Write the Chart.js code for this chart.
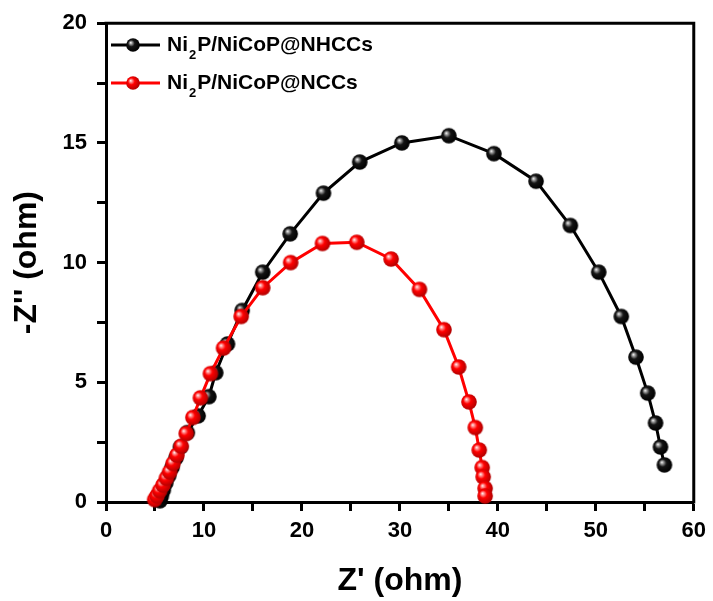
<!DOCTYPE html>
<html>
<head>
<meta charset="utf-8">
<script src="https://cdn.jsdelivr.net/npm/chart.js@4"></script>
<style>
  body { margin: 0; background: #fff; }
  #wrap { width: 713px; height: 601px; }
</style>
</head>
<body>
<div id="wrap"><canvas id="grafico" width="713" height="601"></canvas></div>
<script>
// dados (Nyquist)
var nomes = ['Ni', '2', 'P/NiCoP@NHCCs', 'P/NiCoP@NCCs'];

var zReal_NHCCs = [5.5, 5.65, 5.85, 6.1, 6.4, 6.75, 7.15, 7.6, 8.3, 9.4, 10.5, 11.2, 12.4, 13.9, 16.0, 18.8, 22.2, 25.9, 30.2, 35.0, 39.6, 43.9, 47.4, 50.3, 52.6, 54.1, 55.3, 56.1, 56.6, 57.0];
var zImag_NHCCs = [0.05, 0.25, 0.5, 0.8, 1.1, 1.45, 1.85, 2.3, 2.9, 3.6, 4.4, 5.4, 6.6, 8.0, 9.6, 11.2, 12.9, 14.2, 15.0, 15.3, 14.55, 13.4, 11.55, 9.6, 7.75, 6.05, 4.55, 3.3, 2.3, 1.55];

var zReal_NCCs = [4.97, 5.2, 5.48, 5.82, 6.16, 6.5, 6.84, 7.24, 7.68, 8.19, 8.87, 9.64, 10.66, 12.0, 13.8, 16.0, 18.85, 22.1, 25.6, 29.1, 32.0, 34.5, 36.0, 37.05, 37.7, 38.1, 38.4, 38.5, 38.7, 38.7];
var zImag_NCCs = [0.1, 0.26, 0.47, 0.71, 0.99, 1.26, 1.61, 1.96, 2.33, 2.86, 3.53, 4.35, 5.36, 6.43, 7.75, 8.95, 10.0, 10.8, 10.85, 10.15, 8.88, 7.2, 5.64, 4.18, 3.11, 2.17, 1.44, 1.05, 0.57, 0.25];

var FONTE = "'Liberation Sans', Arial, sans-serif";

// bolinha com brilho (estilo Origin)
function criarBola(raio, cor, brilho, borda) {
  var c = document.createElement('canvas');
  var tam = Math.ceil(raio * 2 + 2);
  c.width = tam;
  c.height = tam;
  var g = c.getContext('2d');
  var cx = tam / 2, cy = tam / 2;
  var grad = g.createRadialGradient(cx - raio * 0.35, cy - raio * 0.35, 0, cx - raio * 0.1, cy - raio * 0.1, raio * 1.1);
  grad.addColorStop(0, '#ffffff');
  grad.addColorStop(0.18, brilho);
  grad.addColorStop(0.45, cor);
  grad.addColorStop(1, borda);
  g.fillStyle = grad;
  g.beginPath();
  g.arc(cx, cy, raio, 0, Math.PI * 2);
  g.fill();
  return c;
}

var bolaPreta = criarBola(7.8, '#141414', '#9a9a9a', '#000000');
var bolaVermelha = criarBola(7.8, '#ff0000', '#ff9090', '#b00000');
var bolaPretaLeg = criarBola(6.8, '#141414', '#9a9a9a', '#000000');
var bolaVermelhaLeg = criarBola(6.8, '#ff0000', '#ff9090', '#b00000');

function pontos(xs, ys) {
  return xs.map(function (x, i) { return { x: x, y: ys[i] }; });
}

// moldura (topo e direita)
var moldura = {
  id: 'moldura',
  afterDatasetsDraw: function (chart) {
    var a = chart.chartArea, ctx = chart.ctx;
    ctx.save();
    ctx.strokeStyle = '#000';
    ctx.lineWidth = 3;
    ctx.beginPath();
    ctx.moveTo(a.left - 1.5, a.top);
    ctx.lineTo(a.right, a.top);
    ctx.lineTo(a.right, a.bottom + 1.5);
    ctx.stroke();
    ctx.restore();
  }
};

// legenda com subscrito
var legenda = {
  id: 'legenda',
  afterDraw: function (chart) {
    var ctx = chart.ctx;
    var itens = [
      { y: 45, cor: '#000', bola: bolaPretaLeg, texto: nomes[2] },
      { y: 83, cor: '#ff0000', bola: bolaVermelhaLeg, texto: nomes[3] }
    ];
    ctx.save();
    itens.forEach(function (it) {
      ctx.strokeStyle = it.cor;
      ctx.lineWidth = 3;
      ctx.beginPath();
      ctx.moveTo(111, it.y);
      ctx.lineTo(160, it.y);
      ctx.stroke();
      ctx.drawImage(it.bola, 133 - it.bola.width / 2, it.y - it.bola.height / 2);
      ctx.fillStyle = '#000';
      ctx.textBaseline = 'alphabetic';
      ctx.font = 'bold 21px ' + FONTE;
      var x = 167, base = it.y + 6;
      ctx.fillText(nomes[0], x, base);
      x += ctx.measureText(nomes[0]).width + 1;
      ctx.font = 'bold 13px ' + FONTE;
      ctx.fillText(nomes[1], x, base + 8);
      x += ctx.measureText(nomes[1]).width + 1;
      ctx.font = 'bold 21px ' + FONTE;
      ctx.fillText(it.texto, x, base);
    });
    ctx.restore();
  }
};

var config = {
  type: 'scatter',
  data: {
    datasets: [
      {
        label: 'Ni2P/NiCoP@NCCs',
        data: pontos(zReal_NCCs, zImag_NCCs),
        showLine: true,
        borderColor: '#ff0000',
        borderWidth: 3,
        pointStyle: bolaVermelha,
        pointRadius: 7.8,
        order: 0,
        clip: false
      },
      {
        label: 'Ni2P/NiCoP@NHCCs',
        data: pontos(zReal_NHCCs, zImag_NHCCs),
        showLine: true,
        borderColor: '#000000',
        borderWidth: 3,
        pointStyle: bolaPreta,
        pointRadius: 7.8,
        order: 1,
        clip: false
      }
    ]
  },
  options: {
    responsive: false,
    animation: false,
    devicePixelRatio: 1,
    layout: { padding: { left: 0, right: 16, top: 22, bottom: 0 } },
    plugins: { legend: { display: false }, tooltip: { enabled: false } },
    scales: {
      x: {
        type: 'linear',
        min: 0, max: 60,
        afterFit: function (s) { s.height = 99; },
        border: { display: true, width: 3, color: '#000' },
        grid: { drawOnChartArea: false, drawTicks: true, tickLength: 9, tickWidth: 3, tickColor: '#000' },
        ticks: {
          stepSize: 5, autoSkip: false, maxRotation: 0, padding: 7, color: '#000',
          font: { family: FONTE, size: 22, weight: 'bold' },
          callback: function (v) { return v % 10 === 0 ? v : ''; }
        },
        title: {
          display: true, text: "Z' (ohm)", color: '#000',
          font: { family: FONTE, size: 32, weight: 'bold' },
          padding: { top: 0, bottom: 1 }
        }
      },
      y: {
        type: 'linear',
        min: 0, max: 20,
        afterFit: function (s) { s.width = 106; },
        border: { display: true, width: 3, color: '#000' },
        grid: { drawOnChartArea: false, drawTicks: true, tickLength: 9, tickWidth: 3, tickColor: '#000' },
        ticks: {
          stepSize: 2.5, autoSkip: false, padding: 10, color: '#000',
          font: { family: FONTE, size: 22, weight: 'bold' },
          callback: function (v) { return v % 5 === 0 ? v : ''; }
        },
        title: {
          display: true, text: "-Z'' (ohm)", color: '#000',
          font: { family: FONTE, size: 32, weight: 'bold' },
          padding: { top: 8, bottom: 0 }
        }
      }
    }
  },
  plugins: [moldura, legenda]
};

var meuGrafico = new Chart(document.getElementById('grafico'), config);
</script>
</body>
</html>
